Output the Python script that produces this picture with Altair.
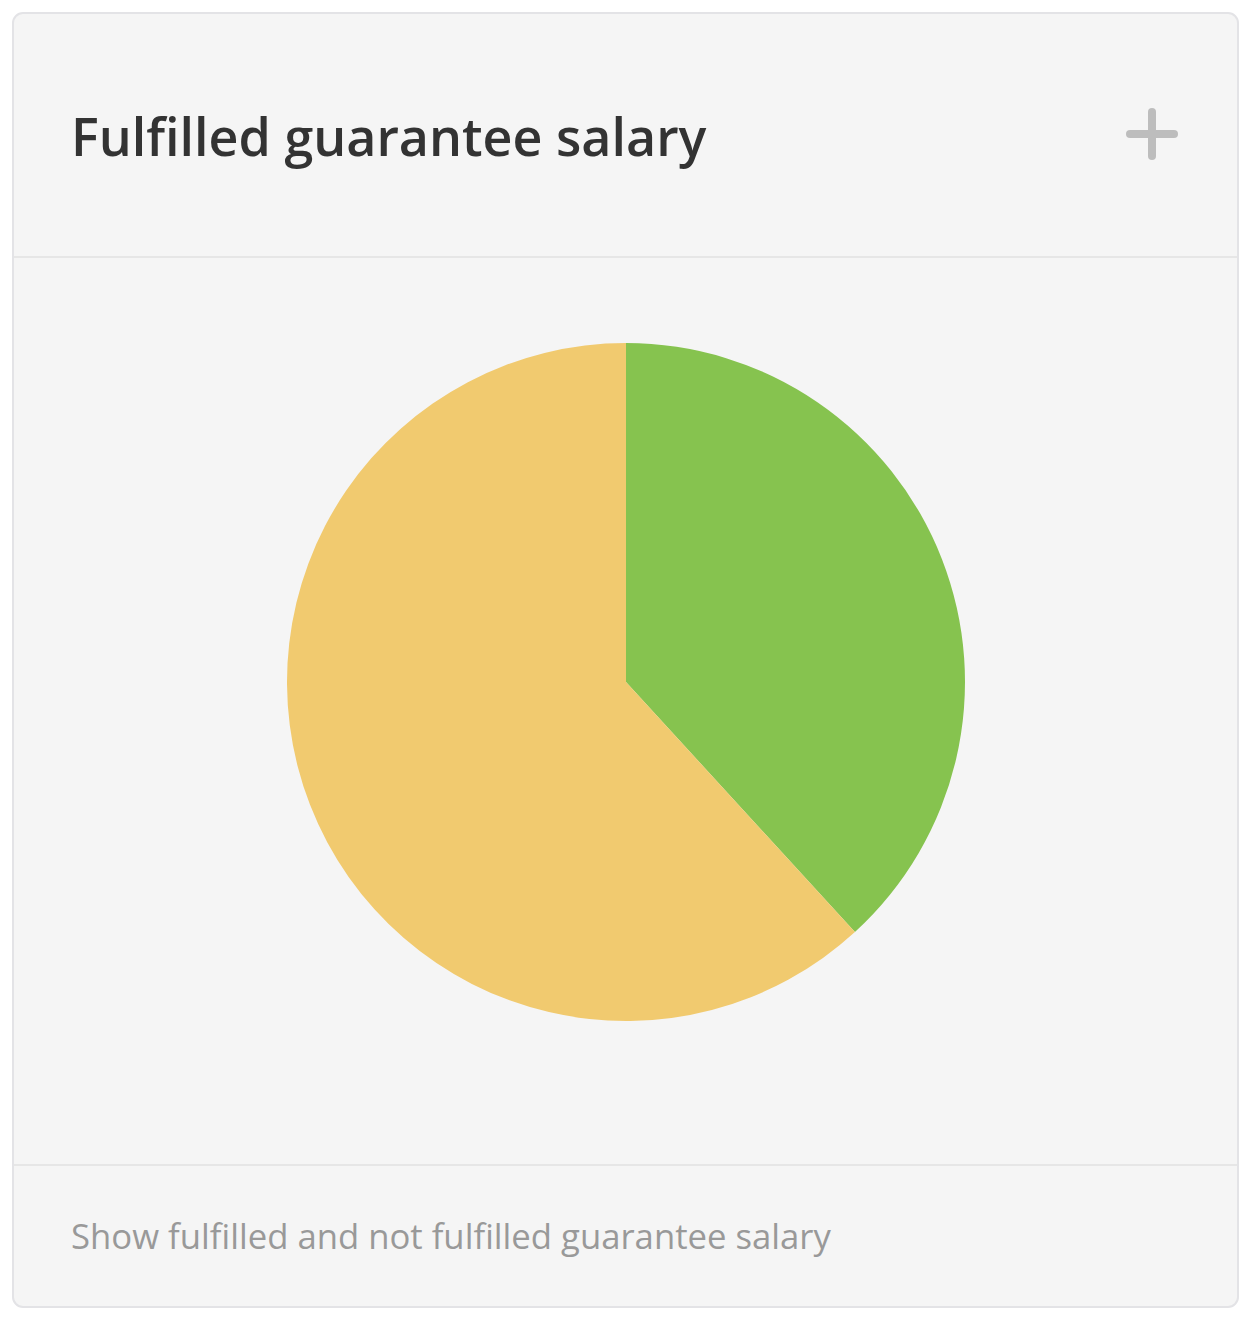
import altair as alt
import pandas as pd

categories = ["Fulfilled", "Not fulfilled"]
values = [38.2, 61.8]
colors = ["#86C34F", "#F1CA6F"]

title_text = "Fulfilled guarantee salary"
footer_text = "Show fulfilled and not fulfilled guarantee salary"

df = pd.DataFrame({"status": categories, "value": values, "order": [0, 1]})

W, H = 1234, 1306

card = alt.Chart(pd.DataFrame({"a": [0]})).mark_rect(
    fill="#F5F5F5", stroke="#E3E3E6", strokeWidth=2, cornerRadius=10
).encode(x=alt.value(5), x2=alt.value(1230), y=alt.value(5), y2=alt.value(1299))

dividers = alt.Chart(pd.DataFrame({"yy": [249, 1157]})).mark_rule(
    color="#E6E6E6", strokeWidth=2
).encode(x=alt.value(6), x2=alt.value(1229), y=alt.Y("yy:Q", scale=None))

plus_h = alt.Chart(pd.DataFrame({"a": [0]})).mark_rule(
    color="#BDBDBD", strokeWidth=8, strokeCap="round"
).encode(x=alt.value(1122), x2=alt.value(1166), y=alt.value(126))
plus_v = alt.Chart(pd.DataFrame({"a": [0]})).mark_rule(
    color="#BDBDBD", strokeWidth=8, strokeCap="round"
).encode(x=alt.value(1144), y=alt.value(104), y2=alt.value(148))

title = alt.Chart(pd.DataFrame({"t": [title_text]})).mark_text(
    font="Open Sans", fontSize=52, fontWeight=600, color="#333333",
    align="left", baseline="alphabetic"
).encode(text="t:N", x=alt.value(63), y=alt.value(148))

footer = alt.Chart(pd.DataFrame({"t": [footer_text]})).mark_text(
    font="Open Sans", fontSize=34.7, color="#999999",
    align="left", baseline="alphabetic"
).encode(text="t:N", x=alt.value(63), y=alt.value(1241))

pie = alt.Chart(df).mark_arc(radius=339, stroke=None).encode(
    theta=alt.Theta("value:Q", stack=True),
    color=alt.Color("status:N", scale=alt.Scale(domain=categories, range=colors), legend=None),
    order=alt.Order("order:Q"),
    x=alt.value(618),
    y=alt.value(674),
)

chart = alt.layer(card, dividers, plus_h, plus_v, title, footer, pie).properties(
    width=W, height=H, padding=0, autosize=alt.AutoSizeParams(type="none"),
    background="#FFFFFF"
).configure_view(stroke=None)

chart.save("out.html", embed_options={"renderer": "svg", "actions": False})
